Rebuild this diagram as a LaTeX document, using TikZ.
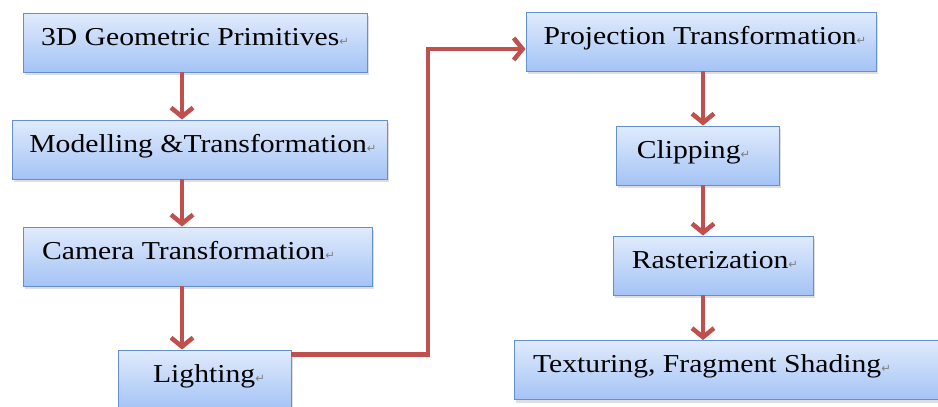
\documentclass[tikz,border=0pt]{standalone}
\usepackage{fontspec}
\setmainfont{Liberation Serif}[FakeStretch=1.15]
\newfontfamily\markfont{DejaVu Sans}
\usetikzlibrary{arrows.meta,shadows}

\definecolor{boxtop}{RGB}{224,235,252}
\definecolor{boxbot}{RGB}{164,195,245}
\definecolor{boxline}{RGB}{100,145,205}
\definecolor{flow}{RGB}{192,80,77}

% paragraph mark after each label
\newcommand{\pmark}{{\markfont\fontsize{11.5}{11.5}\selectfont\color{black!50}↵}}
% move a label sideways inside its box by half the given length
\newcommand{\nudge}[1]{\hspace*{#1}}

\begin{document}
\begin{tikzpicture}[x=1pt,y=-1pt,
  stage/.style={draw=boxline, line width=0.9pt, top color=boxtop, bottom color=boxbot,
    minimum height=59pt, inner sep=0pt, text height=10pt, text depth=5pt,
    font=\fontsize{25.8}{30}\selectfont,
    drop shadow={shadow xshift=1.5pt, shadow yshift=-3pt, opacity=0.25}},
  flowarrow/.style={draw=flow, line width=4.5pt,
    -{Straight Barb[length=9pt,width=22pt]}}]

\fill[white] (0,0) rectangle (938,407);
\useasboundingbox (0,0) rectangle (938,407);

% left column
\node[stage, minimum width=344pt] (geo)   at (195,42.5)   {3D Geometric Primitives\pmark};
\node[stage, minimum width=375pt] (model) at (199.5,149.5){\nudge{7pt}Modelling \&Transformation\pmark};
\node[stage, minimum width=349pt] (cam)   at (197.5,256.5){\nudge{-18pt}Camera Transformation\pmark};
\node[stage, minimum width=173pt] (light) at (204.5,379.5){\nudge{9pt}Lighting\pmark};

% right column
\node[stage, minimum width=350pt] (proj)  at (701,41.5)   {\nudge{8pt}Projection Transformation\pmark};
\node[stage, minimum width=163pt] (clip)  at (697.5,155.5){\nudge{-8pt}Clipping\pmark};
\node[stage, minimum width=200pt] (rast)  at (713,265.5)  {\nudge{4pt}Rasterization\pmark};
\node[stage, minimum width=428pt] (tex)   at (728,370)    {\nudge{-32pt}Texturing, Fragment Shading\pmark};

% connectors
\coordinate (lcol) at (182,0);
\coordinate (rcol) at (703,0);
\coordinate (riser) at (428,49);

\draw[flowarrow] (geo.south -| lcol)   -- (model.north -| lcol);
\draw[flowarrow] (model.south -| lcol) -- (cam.north -| lcol);
\draw[flowarrow] (cam.south -| lcol)   -- (light.north -| lcol);
\draw[flowarrow] ([yshift=-5pt]light.north east) -| (riser) -- (riser -| proj.west);
\draw[flowarrow] (proj.south -| rcol)  -- (clip.north -| rcol);
\draw[flowarrow] (clip.south -| rcol)  -- (rast.north -| rcol);
\draw[flowarrow] (rast.south -| rcol)  -- (tex.north -| rcol);
\end{tikzpicture}
\end{document}
